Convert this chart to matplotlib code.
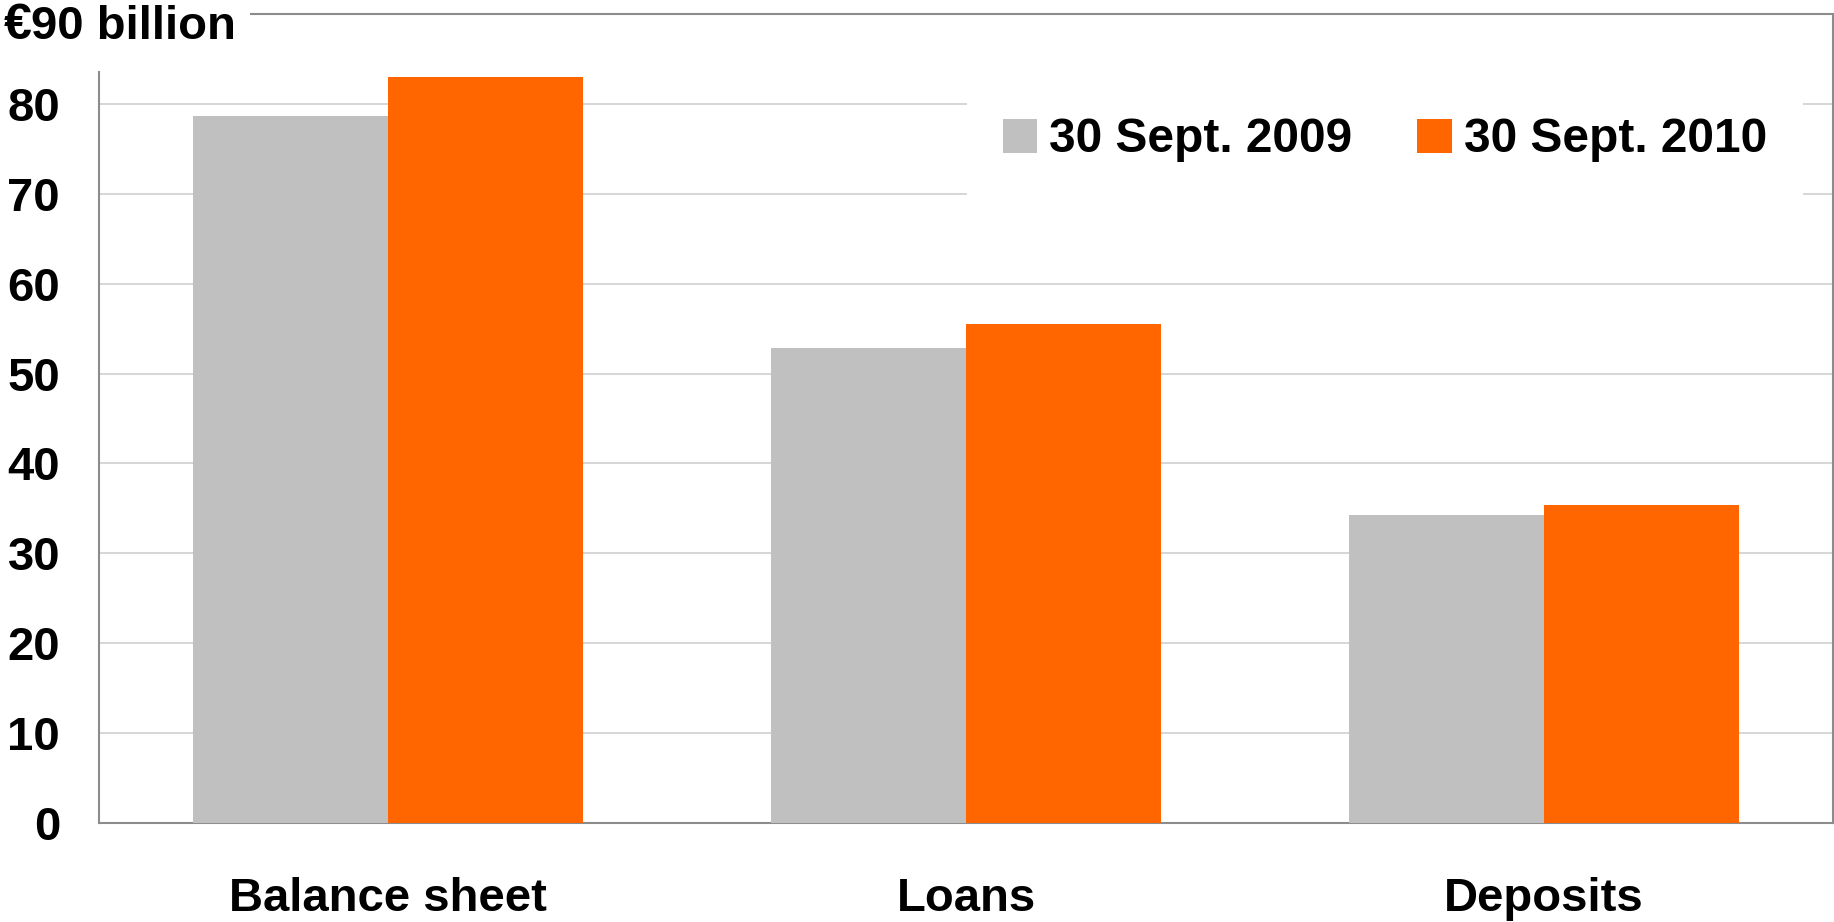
import matplotlib
matplotlib.use("Agg")
import matplotlib.pyplot as plt
from matplotlib.patches import Patch, Rectangle
import numpy as np

categories = ["Balance sheet", "Loans", "Deposits"]
series_names = ["30 Sept. 2009", "30 Sept. 2010"]
values_2009 = [78.7, 52.8, 34.3]
values_2010 = [83.0, 55.5, 35.4]
y_ticks = [0, 10, 20, 30, 40, 50, 60, 70, 80]
unit_label = "€"
top_label = "90 billion"

colors = ["#C0C0C0", "#FF6600"]
W, H = 1834, 922
plt.rcParams['font.family'] = ['Liberation Sans', 'DejaVu Sans']
plt.rcParams['font.weight'] = 'bold'
FS = 34

fig = plt.figure(figsize=(W / 100, H / 100), dpi=100)
ax = fig.add_axes([99 / W, 1 - 823 / H, (1833 - 99) / W, (823 - 14) / H])

x = np.arange(len(categories))
bw = 0.337
ax.bar(x - bw / 2, values_2009, width=bw, color=colors[0], zorder=3, linewidth=0)
ax.bar(x + bw / 2, values_2010, width=bw, color=colors[1], zorder=3, linewidth=0)

ax.set_xlim(-0.5, 2.5)
ax.set_ylim(0, 90)
ax.set_yticks(y_ticks)
ax.set_yticklabels([str(v) for v in y_ticks], fontsize=FS, fontweight='bold')
ax.set_xticks(x)
ax.set_xticklabels(categories, fontsize=FS, fontweight='bold')
ax.tick_params(axis='y', length=0, pad=28)
ax.tick_params(axis='x', length=0, pad=39)
ax.yaxis.grid(True, color='#D0D0D0', linewidth=1.2, zorder=0)
ax.set_axisbelow(True)
for s in ax.spines.values():
    s.set_color('#8C8C8C')
    s.set_linewidth(1.5)

handles = [Patch(facecolor=c, edgecolor='none') for c in colors]
leg = ax.legend(handles, series_names, ncol=2, loc='center',
                bbox_to_anchor=(1385 / W, 1 - 140 / H), bbox_transform=fig.transFigure,
                prop={'family': 'Liberation Sans', 'weight': 'bold', 'size': 34.5},
                handlelength=0.72, handleheight=0.72, handletextpad=0.25,
                columnspacing=1.35, borderpad=0.75, frameon=True, fancybox=False,
                facecolor='white', edgecolor='none', framealpha=1.0)
leg.set_zorder(5)

# white box hiding the top-left corner, as in the original
fig.patches.append(Rectangle((0, 1 - 71 / H), 250 / W, 71 / H, transform=fig.transFigure,
                             facecolor='white', edgecolor='none', zorder=10))
fig.text(4 / W, 1 - 39 / H, unit_label, fontsize=FS + 2, fontweight='bold', ha='left', va='baseline', zorder=11)
fig.text(31 / W, 1 - 39 / H, top_label, fontsize=FS, fontweight='bold', ha='left', va='baseline', zorder=11)

fig.savefig("out.png", dpi=100, facecolor='white')
